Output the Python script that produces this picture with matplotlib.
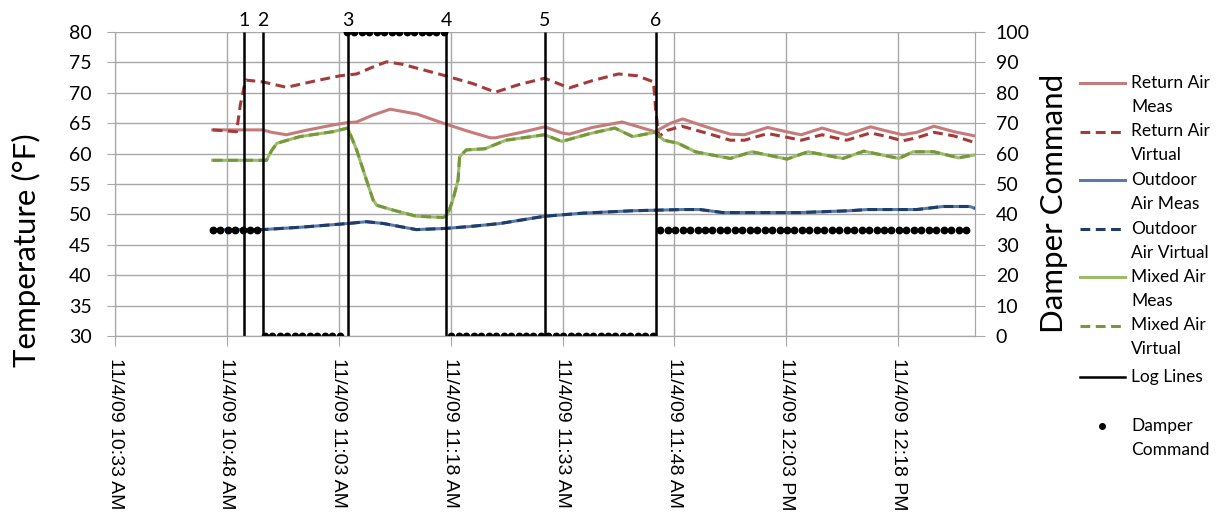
import numpy as np
import matplotlib
matplotlib.use("Agg")
import matplotlib.pyplot as plt
from matplotlib.lines import Line2D

plt.rcParams['font.family'] = ['Lato', 'DejaVu Sans']

# x values are minutes after 11/4/09 10:33 AM
tick_minutes = [0, 15, 30, 45, 60, 75, 90, 105]
tick_labels = ["11/4/09 10:33 AM", "11/4/09 10:48 AM", "11/4/09 11:03 AM",
               "11/4/09 11:18 AM", "11/4/09 11:33 AM", "11/4/09 11:48 AM",
               "11/4/09 12:03 PM", "11/4/09 12:18 PM"]
x_end = 115.3

# Return air (measured / virtual)
return_meas_t = [13.1, 19.8, 21.0, 23.0, 25.5, 29.2, 31.2, 32.4, 34.5, 36.9, 40.5, 44.0,
                 47.0, 50.3, 51.0, 54.5, 57.6, 59.9, 60.9, 64.0, 68.0, 72.4, 74.5, 76.1,
                 79.5, 82.5, 84.4, 87.5, 90.0, 92.0, 94.8, 96.5, 98.1, 101.3, 103.5, 105.6,
                 107.5, 109.8, 112.5, 115.3]
return_meas = [63.9, 63.9, 63.5, 63.1, 63.8, 64.7, 65.1, 65.2, 66.3, 67.3, 66.5, 65.0,
               63.8, 62.6, 62.6, 63.5, 64.4, 63.4, 63.2, 64.3, 65.2, 63.6, 65.0, 65.7,
               64.3, 63.2, 63.1, 64.3, 63.6, 63.1, 64.2, 63.6, 63.1, 64.4, 63.7, 63.1,
               63.5, 64.5, 63.6, 62.9]

return_virt_t = [13.1, 16.3, 16.8, 17.5, 19.8, 23.0, 27.0, 30.2, 32.4, 34.5, 36.4, 38.5,
                 44.0, 48.0, 51.0, 54.0, 57.6, 60.9, 64.0, 67.5, 70.0, 72.2, 72.5, 72.9,
                 74.0, 76.0, 79.5, 82.5, 84.4, 87.5, 90.0, 92.0, 94.8, 96.5, 98.1, 101.3,
                 103.5, 105.6, 107.5, 109.8, 112.5, 115.3]
return_virt = [63.9, 63.6, 68.0, 72.1, 71.8, 70.9, 72.0, 72.8, 73.1, 74.2, 75.1, 74.7,
               72.9, 71.5, 70.1, 71.3, 72.4, 70.8, 72.0, 73.1, 72.8, 71.8, 67.0, 62.8,
               63.8, 64.5, 63.3, 62.2, 62.2, 63.3, 62.7, 62.2, 63.1, 62.6, 62.2, 63.4,
               62.8, 62.1, 62.6, 63.5, 62.9, 61.8]

# Outdoor air
outdoor_t = [13.1, 19.8, 25.0, 31.2, 33.7, 36.0, 40.4, 44.4, 47.5, 51.6, 57.6, 62.7,
             69.4, 76.1, 78.4, 81.5, 91.8, 98.5, 100.8, 107.5, 111.0, 114.6, 115.3]
outdoor_meas = [47.5, 47.5, 47.9, 48.5, 48.8, 48.5, 47.5, 47.7, 48.0, 48.5, 49.7, 50.2,
                50.6, 50.8, 50.8, 50.3, 50.3, 50.6, 50.8, 50.8, 51.3, 51.3, 51.0]
outdoor_virt = [47.5, 47.5, 47.9, 48.5, 48.8, 48.5, 47.5, 47.7, 48.0, 48.5, 49.7, 50.2,
                50.6, 50.8, 50.8, 50.3, 50.3, 50.6, 50.8, 50.8, 51.3, 51.3, 51.0]

# Mixed air
mixed_t = [13.1, 20.3, 21.0, 21.7, 24.8, 29.2, 31.2, 32.4, 33.7, 34.6, 35.1, 37.3, 40.4,
           44.0, 44.6, 45.3, 46.0, 46.2, 47.1, 49.6, 52.4, 57.6, 59.9, 63.7, 67.0, 69.4,
           72.4, 73.6, 75.5, 77.8, 82.5, 85.4, 90.1, 92.9, 97.6, 100.4, 105.1, 107.0,
           109.8, 113.1, 115.3]
mixed_meas = [58.9, 58.9, 60.5, 61.7, 62.8, 63.6, 64.2, 60.6, 55.7, 52.4, 51.5, 50.7, 49.7,
              49.5, 50.0, 52.4, 55.7, 59.5, 60.6, 60.8, 62.2, 63.1, 62.0, 63.3, 64.2, 62.8,
              63.5, 62.2, 61.7, 60.3, 59.2, 60.3, 59.1, 60.3, 59.2, 60.4, 59.2, 60.3,
              60.3, 59.3, 59.8]
mixed_virt = [58.9, 58.9, 60.5, 61.7, 62.8, 63.6, 64.2, 60.6, 55.7, 52.4, 51.5, 50.7, 49.7,
              49.5, 50.0, 52.4, 55.7, 59.5, 60.6, 60.8, 62.2, 63.1, 62.0, 63.3, 64.2, 62.8,
              63.5, 62.2, 61.7, 60.3, 59.2, 60.3, 59.1, 60.3, 59.2, 60.4, 59.2, 60.3,
              60.3, 59.3, 59.8]

# Log lines
log_t = [17.3, 19.8, 31.2, 44.4, 57.6, 72.5]
log_labels = ["1", "2", "3", "4", "5", "6"]

# Damper command, one sample per minute: (value, count)
damper_start = 13.1
damper_runs = [(35, 7), (0, 11), (100, 14), (0, 28), (35, 42)]

damper_vals = np.concatenate([[v] * n for v, n in damper_runs])
damper_t = damper_start + np.arange(len(damper_vals)) * 1.0

W, H = 1221, 516
fig = plt.figure(figsize=(W / 100, H / 100), dpi=100)
fig.subplots_adjust(left=115 / W, right=975 / W, bottom=1 - 336 / H, top=1 - 32 / H)
ax = fig.add_subplot(111)
ax2 = ax.twinx()

dash = (0, (3.2, 1.8))
lw = 2.2
colors = {"rm": "#c67b7b", "rv": "#a53a3a", "om": "#5a7aa8",
          "ov": "#1f3c6a", "mm": "#9dbb68", "mv": "#75983a"}
ax.plot(return_meas_t, return_meas, color=colors["rm"], lw=lw)
ax.plot(return_virt_t, return_virt, color=colors["rv"], lw=lw, ls=dash)
ax.plot(outdoor_t, outdoor_meas, color=colors["om"], lw=lw)
ax.plot(outdoor_t, outdoor_virt, color=colors["ov"], lw=lw, ls=dash)
ax.plot(mixed_t, mixed_meas, color=colors["mm"], lw=lw)
ax.plot(mixed_t, mixed_virt, color=colors["mv"], lw=lw, ls=dash)

ax2.vlines(log_t, 0, 100, color="black", lw=1.8)
for x, lab in zip(log_t, log_labels):
    ax2.annotate(lab, (x, 100), xytext=(0, 2), textcoords="offset points",
                 ha="center", va="bottom", fontsize=14, annotation_clip=False)
ax2.plot(damper_t, damper_vals, ls="none", marker="o", ms=4.6, color="black")

grid_c = "#a8a8a8"
ax.set_xlim(0, x_end)
ax.set_ylim(30, 80)
ax.set_yticks(range(30, 81, 5))
ax.set_xticks(tick_minutes)
ax.set_xticklabels(tick_labels, rotation=-90, fontsize=14, family="Liberation Sans",
                   va="top", ha="center")
ax.grid(True, color=grid_c, lw=1)
ax.tick_params(axis="y", labelsize=14, length=6, color=grid_c, pad=11)
ax.tick_params(axis="x", length=7, color=grid_c, pad=9)
ax.set_ylabel("Temperature (°F)", fontsize=22.5)
ax.yaxis.set_label_coords((41 - 115) / 860, 0.283)

ax2.set_ylim(0, 100)
ax2.set_yticks(range(0, 101, 10))
ax2.tick_params(axis="y", labelsize=14, length=7, color=grid_c, pad=8)
ax2.set_ylabel("Damper Command", fontsize=22.5)
ax2.yaxis.set_label_coords((1040 - 115) / 860, 0.4375)

for a in (ax, ax2):
    a.spines["top"].set_visible(False)
    for s in ("left", "right", "bottom"):
        a.spines[s].set_color(grid_c)

# legend drawn by hand so every entry keeps its two-line label
line_entries = [("rm", "-", "Return Air", "Meas"), ("rv", dash, "Return Air", "Virtual"),
                ("om", "-", "Outdoor", "Air Meas"), ("ov", dash, "Outdoor", "Air Virtual"),
                ("mm", "-", "Mixed Air", "Meas"), ("mv", dash, "Mixed Air", "Virtual")]
fx = lambda px: px / W
fy = lambda py: 1 - py / H
leg_fs = 12.5
for i, (key, ls, l1, l2) in enumerate(line_entries):
    y = 83 + 48.5 * i
    fig.add_artist(Line2D([fx(1080), fx(1125)], [fy(y), fy(y)], color=colors[key],
                          lw=lw, ls=ls, transform=fig.transFigure))
    fig.text(fx(1131), fy(y), l1, fontsize=leg_fs, va="center")
    fig.text(fx(1131), fy(y + 24), l2, fontsize=leg_fs, va="center")
fig.add_artist(Line2D([fx(1080), fx(1125)], [fy(377), fy(377)], color="black",
                      lw=1.8, transform=fig.transFigure))
fig.text(fx(1131), fy(377), "Log Lines", fontsize=leg_fs, va="center")
fig.add_artist(Line2D([fx(1102)], [fy(426)], ls="none", marker="o", ms=4,
                      color="black", transform=fig.transFigure))
fig.text(fx(1131), fy(426), "Damper", fontsize=leg_fs, va="center")
fig.text(fx(1131), fy(450), "Command", fontsize=leg_fs, va="center")

fig.savefig("out.png", dpi=100)
